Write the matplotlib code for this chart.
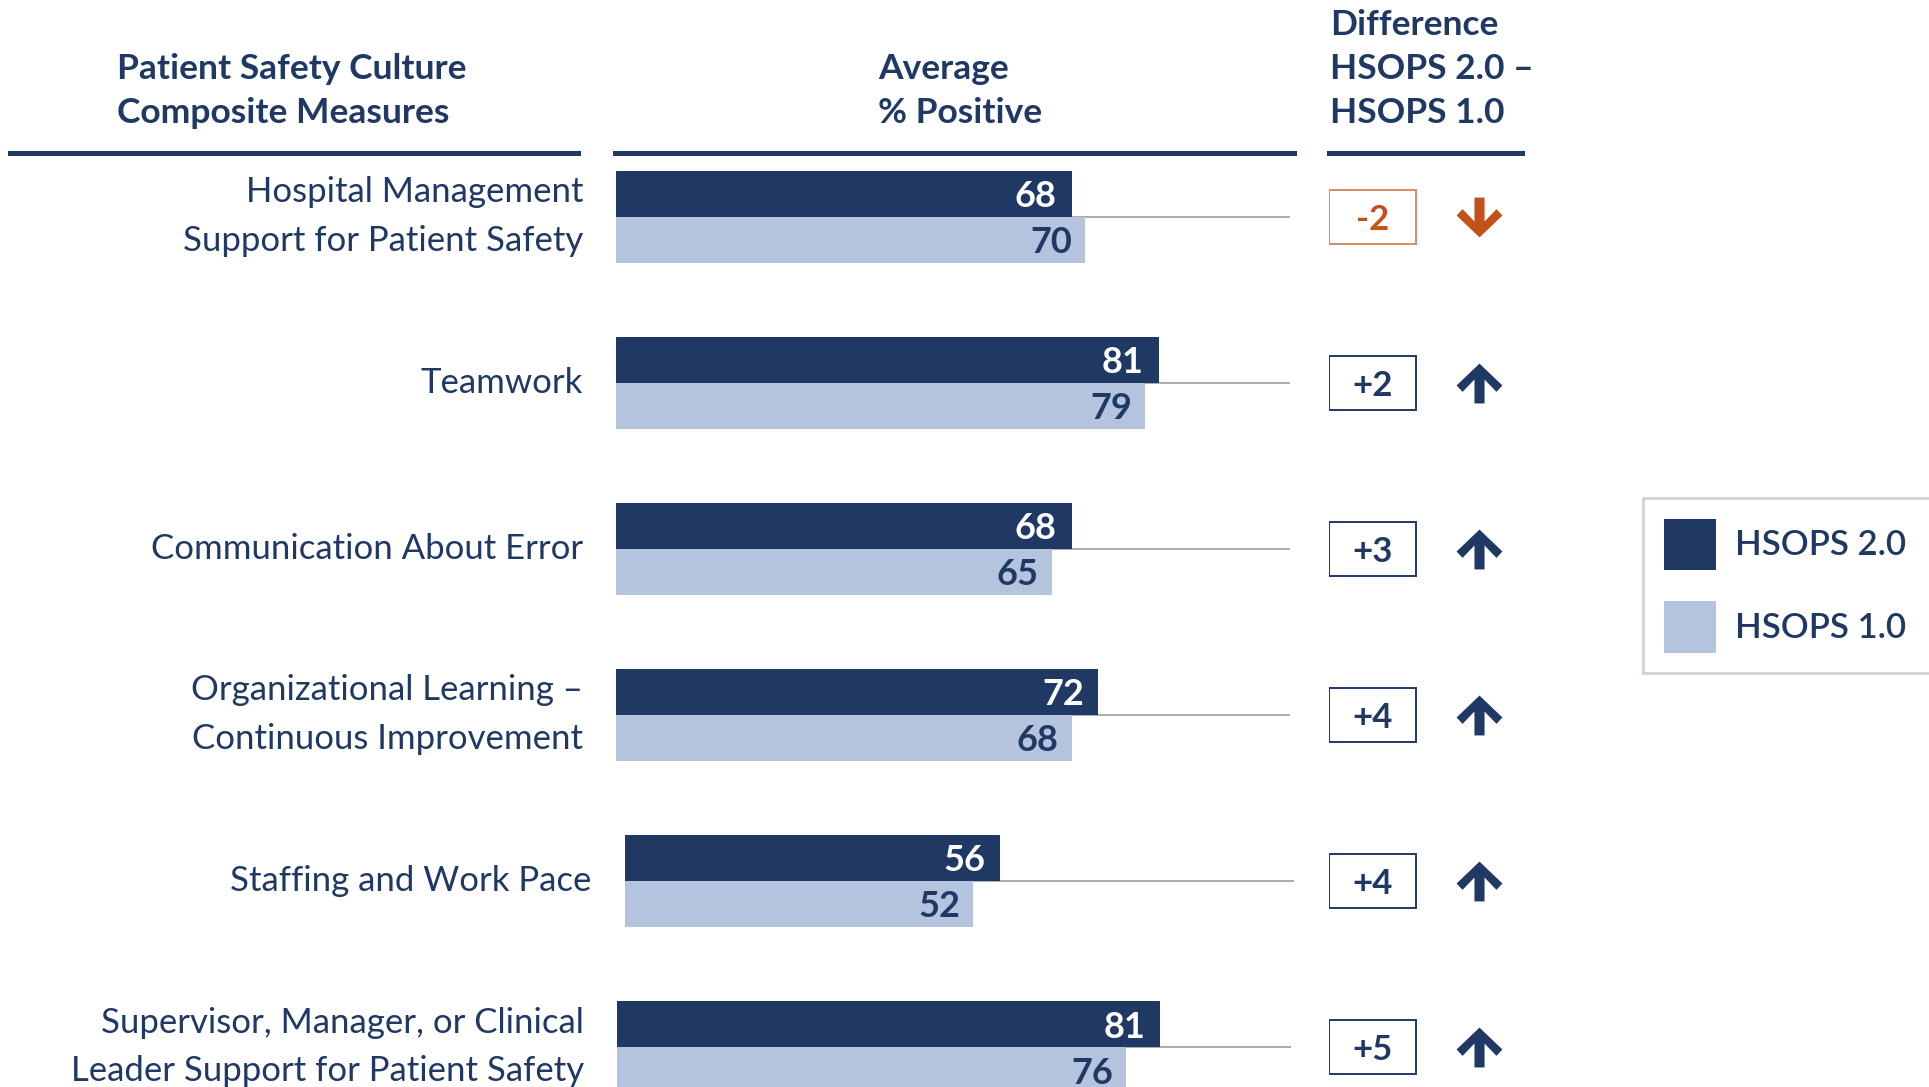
import matplotlib
matplotlib.use("Agg")
import matplotlib.pyplot as plt
from matplotlib.patches import Rectangle, Patch
from matplotlib.lines import Line2D
from matplotlib.path import Path
from matplotlib.transforms import blended_transform_factory
import numpy as np

plt.rcParams['font.family'] = ['Lato', 'DejaVu Sans']

# données
measures = [
    "Hospital Management\nSupport for Patient Safety",
    "Teamwork",
    "Communication About Error",
    "Organizational Learning –\nContinuous Improvement",
    "Staffing and Work Pace",
    "Supervisor, Manager, or Clinical\nLeader Support for Patient Safety",
]
hsops2 = [68, 81, 68, 72, 56, 81]
hsops1 = [70, 79, 65, 68, 52, 76]
diff = [-2, 2, 3, 4, 4, 5]

headers = [
    (["Patient Safety Culture", "Composite Measures"], 117),
    (["Average", "% Positive"], 878),
    (["Difference", "HSOPS 2.0 –", "HSOPS 1.0"], 1330),
]

NAVY = "#1F3864"
LIGHT = "#B4C3DE"
ORANGE = "#C4501B"
GREY = "#A6A6A6"

W, H = 1929, 1087
row_y0, row_step = 216.5, 166.1
px_unit = 6.70  # pixels par point de pourcentage
row_shift = np.array([0, 0, 0, 0, 8.6, 1.2])  # petit décalage (px) de certaines lignes

fig = plt.figure(figsize=(W / 100, H / 100), dpi=100)

ax = fig.add_axes([616 / W, 0, 678 / W, 1])
ax.set_xlim(0, 678 / px_unit)
ax.set_ylim((H - row_y0) / row_step, -row_y0 / row_step)
ax.axis('off')

y = np.arange(len(measures))
bh = 46 / row_step
left = row_shift / px_unit

ax.hlines(y, left, 100.6 + left, color=GREY, lw=1.3, zorder=1)
ax.barh(y - bh / 2, hsops2, left=left, height=bh, color=NAVY, zorder=2)
ax.barh(y + bh / 2, hsops1, left=left, height=bh, color=LIGHT, zorder=2)

for i in range(len(measures)):
    ax.text(left[i] + hsops2[i] - 2.2, y[i] - bh / 2, str(hsops2[i]), color="white",
            fontsize=26, fontweight='bold', ha='right', va='center_baseline', zorder=3)
    ax.text(left[i] + hsops1[i] - 1.9, y[i] + bh / 2, str(hsops1[i]), color=NAVY,
            fontsize=26, fontweight='bold', ha='right', va='center_baseline', zorder=3)

# libellés des lignes
tr = blended_transform_factory(fig.transFigure, ax.transData)
for i, lab in enumerate(measures):
    ax.text((583 + row_shift[i]) / W, y[i], lab, transform=tr, ha='right',
            va='center', fontsize=25, color=NAVY, linespacing=1.65)

# en-têtes
for lines, x0 in headers:
    n = len(lines)
    for k, line in enumerate(lines):
        py = 113 - (n - 1 - k) * 44
        fig.text(x0 / W, 1 - py / H, line, ha='left', va='center',
                 fontsize=25.5, fontweight='bold', color=NAVY)

for x0, x1 in [(10, 578), (615, 1294), (1329, 1522)]:
    fig.add_artist(Line2D([x0 / W, x1 / W], [1 - 153 / H, 1 - 153 / H],
                          transform=fig.transFigure, color=NAVY, lw=3.6))

# colonne des différences
dax = fig.add_axes([1329 / W, 0, 193 / W, 1])
dax.set_xlim(0, 193)
dax.set_ylim(ax.get_ylim())
dax.axis('off')

up_pts = np.array([(0, 1), (1, -0.1), (0.74, -0.42), (0.22, 0.2), (0.22, -1),
                   (-0.22, -1), (-0.22, 0.2), (-0.74, -0.42), (-1, -0.1), (0, 1)])
up_pts[:, 1] *= 0.87
up = Path(up_pts, closed=True)
down = Path(up_pts * [1, -1], closed=True)

bx_h = 54 / row_step
for i, d in enumerate(diff):
    col = ORANGE if d < 0 else NAVY
    edge = "#D98A5F" if d < 0 else NAVY
    dax.add_patch(Rectangle((0, y[i] - bx_h / 2), 87, bx_h, facecolor='white',
                            edgecolor=edge, lw=1.4))
    dax.text(43.5, y[i], f"{d:+d}", ha='center', va='center_baseline', fontsize=25,
             fontweight='bold', color=col)
    dax.plot(150, y[i], marker=down if d < 0 else up, markersize=33,
             color=col, markeredgewidth=0, linestyle='none')

# légende
handles = [Patch(facecolor=NAVY, edgecolor='none'),
           Patch(facecolor=LIGHT, edgecolor='none')]
leg = fig.legend(handles, ["HSOPS 2.0", "HSOPS 1.0"], loc='upper left',
                 bbox_to_anchor=(1643 / W, 0, 320 / W, 1 - 498 / H),
                 mode='expand', fontsize=25,
                 frameon=True, fancybox=False, handlelength=1.5,
                 handleheight=1.885, handletextpad=0.55, labelspacing=0.91,
                 borderpad=0.6, borderaxespad=0)
leg.get_frame().set_edgecolor("#C3C7D0")
leg.get_frame().set_linewidth(2)
for t in leg.get_texts():
    t.set_color(NAVY)
    t.set_fontweight('semibold')

fig.savefig("out.png", dpi=100)
